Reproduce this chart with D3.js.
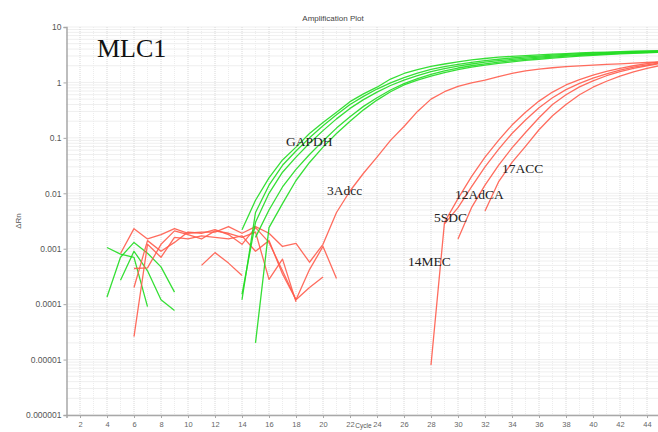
<!DOCTYPE html>
<html>
<head>
<meta charset="utf-8">
<script src="https://cdn.jsdelivr.net/npm/d3@7"></script>
<style>
  html, body { margin: 0; padding: 0; background: #fff; }
  svg { display: block; }
</style>
</head>
<body>
<svg id="chart" width="658" height="432"></svg>
<script>
// ---- data: delta Rn per cycle (first value belongs to the start cycle) ----
const cycleTicks = d3.range(2, 45, 2);
const yTickValues = [10, 1, 0.1, 0.01, 0.001, 0.0001, 0.00001, 0.000001];
const yTickLabels = ["10", "1", "0.1", "0.01", "0.001", "0.0001", "0.00001", "0.000001"];

// GAPDH wells (start at cycle 14 or 15)
const gapdh1 = [0.0022, 0.0075, 0.019, 0.04, 0.068, 0.12, 0.19, 0.29, 0.45, 0.62, 0.82, 1.15, 1.45, 1.7, 1.95, 2.15, 2.35, 2.55, 2.7, 2.85, 2.95, 3.05, 3.15, 3.25, 3.32, 3.4, 3.47, 3.53, 3.6, 3.65, 3.7, 3.75];
const gapdh2 = [0.00012, 0.0045, 0.014, 0.032, 0.058, 0.1, 0.165, 0.26, 0.4, 0.56, 0.76, 0.98, 1.22, 1.47, 1.72, 1.93, 2.12, 2.3, 2.47, 2.62, 2.76, 2.88, 2.99, 3.1, 3.2, 3.29, 3.37, 3.45, 3.52, 3.58, 3.63, 3.68];
const gapdh3 = [0.00015, 0.003, 0.01, 0.024, 0.045, 0.08, 0.135, 0.22, 0.34, 0.49, 0.67, 0.88, 1.1, 1.33, 1.56, 1.78, 1.97, 2.15, 2.32, 2.47, 2.61, 2.74, 2.86, 2.97, 3.07, 3.17, 3.26, 3.34, 3.42, 3.49, 3.55, 3.6];
const gapdh4 = [0.0016, 0.005, 0.013, 0.027, 0.05, 0.088, 0.15, 0.24, 0.37, 0.53, 0.73, 0.95, 1.17, 1.4, 1.62, 1.82, 2.0, 2.17, 2.33, 2.47, 2.61, 2.74, 2.86, 2.97, 3.07, 3.17, 3.26, 3.34, 3.42, 3.49, 3.55];
const gapdh5 = [0.00002, 0.0024, 0.0065, 0.017, 0.036, 0.068, 0.12, 0.2, 0.32, 0.48, 0.68, 0.9, 1.1, 1.3, 1.5, 1.7, 1.88, 2.05, 2.2, 2.35, 2.5, 2.62, 2.75, 2.87, 2.98, 3.08, 3.18, 3.27, 3.35, 3.42, 3.5];

// GAPDH baseline noise in the early cycles
const gapdhNoise1 = [0.00105, 0.0008, 0.0007, 0.00009];
const gapdhNoise2 = [0.000135, 0.0007, 0.0013, 0.00083, 0.00047, 0.000165];
const gapdhNoise3 = [0.00027, 0.0009, 0.0004, 0.00012, 0.000077];

// target wells: baseline noise followed by amplification
const adcc3 = [0.00082, 0.0023, 0.0015, 0.0018, 0.0023, 0.0019, 0.002, 0.002, 0.0025, 0.0019, 0.0025, 0.0019, 0.0011, 0.00125, 0.00057, 0.0012, 0.0045, 0.011, 0.023, 0.045, 0.09, 0.16, 0.3, 0.5, 0.68, 0.85, 0.98, 1.1, 1.27, 1.45, 1.62, 1.74, 1.84, 1.92, 1.99, 2.05, 2.11, 2.17, 2.23, 2.29, 2.35];
const mec14 = [0.000008, 0.003, 0.008, 0.02, 0.045, 0.09, 0.17, 0.29, 0.46, 0.67, 0.9, 1.12, 1.35, 1.58, 1.8, 2.0, 2.18, 2.35];
const sdc5 = [0.0028, 0.0055, 0.013, 0.03, 0.062, 0.12, 0.21, 0.35, 0.53, 0.74, 0.96, 1.2, 1.43, 1.66, 1.88, 2.07, 2.25];
const adca12 = [0.0015, 0.0055, 0.014, 0.032, 0.066, 0.125, 0.23, 0.4, 0.6, 0.83, 1.07, 1.32, 1.56, 1.8, 2.0, 2.2];
const acc17 = [0.0048, 0.016, 0.036, 0.07, 0.14, 0.25, 0.4, 0.6, 0.82, 1.05, 1.3, 1.55, 1.8, 2.02];

// target wells: baseline noise only
const redNoise1 = [0.000026, 0.0012, 0.0007, 0.0016, 0.0015, 0.0017, 0.0016, 0.0015, 0.0017, 0.0009, 0.0014, 0.00035, 0.00012, 0.0002, 0.00031];
const redNoise2 = [0.00044, 0.00045, 0.0012, 0.0021, 0.0018, 0.0015, 0.0021, 0.0019, 0.0016, 0.002, 0.00028, 0.00065, 0.00011];
const redNoise3 = [0.0002, 0.0014, 0.0009, 0.0013, 0.002, 0.0019, 0.0022, 0.0018, 0.0012, 0.0024, 0.0013, 0.0004, 0.00012, 0.00042, 0.0011, 0.00029];
const redNoise4 = [0.0005, 0.00085, 0.00055, 0.00033];

const GREEN = "#20dc20";
const RED = "#ff5c4c";

const wells = [
  { values: gapdhNoise1, start: 4, color: GREEN },
  { values: gapdhNoise2, start: 4, color: GREEN },
  { values: gapdhNoise3, start: 5, color: GREEN },
  { values: redNoise1, start: 6, color: RED },
  { values: redNoise2, start: 6, color: RED },
  { values: redNoise3, start: 6, color: RED },
  { values: redNoise4, start: 11, color: RED },
  { values: adcc3, start: 5, color: RED },
  { values: mec14, start: 28, color: RED },
  { values: sdc5, start: 29, color: RED },
  { values: adca12, start: 30, color: RED },
  { values: acc17, start: 32, color: RED },
  { values: gapdh1, start: 14, color: GREEN },
  { values: gapdh2, start: 14, color: GREEN },
  { values: gapdh3, start: 14, color: GREEN },
  { values: gapdh4, start: 15, color: GREEN },
  { values: gapdh5, start: 15, color: GREEN }
];

const labels = [
  { text: "GAPDH", x: 286, y: 146 },
  { text: "3Adcc", x: 327, y: 195 },
  { text: "14MEC", x: 408, y: 266 },
  { text: "5SDC", x: 434, y: 222 },
  { text: "12AdCA", x: 455, y: 199 },
  { text: "17ACC", x: 502, y: 173 }
];

// ---- layout ----
const svg = d3.select("#chart");
const plotLeft = 66.5, plotRight = 660.5, plotTop = 27, plotBottom = 415;

const x = d3.scaleLinear().domain([1, 45]).range([plotLeft, plotRight]);
const y = d3.scaleLog().domain([1e-6, 10]).range([plotBottom, plotTop]);

svg.append("defs").append("clipPath").attr("id", "plot")
  .append("rect").attr("x", plotLeft).attr("y", plotTop - 2)
  .attr("width", plotRight - plotLeft).attr("height", plotBottom - plotTop + 2);

// grid
const grid = svg.append("g");
const minorY = [];
for (let e = -6; e < 1; e++) for (let m = 1; m <= 9; m++) minorY.push(m * Math.pow(10, e));
minorY.push(10);
grid.selectAll("line.h").data(minorY).join("line")
  .attr("x1", plotLeft).attr("x2", plotRight)
  .attr("y1", d => y(d)).attr("y2", d => y(d))
  .attr("stroke", "#dedede").attr("stroke-width", 1)
  .attr("stroke-dasharray", "1,1");
grid.selectAll("line.v").data(d3.range(2, 46)).join("line")
  .attr("y1", plotTop).attr("y2", plotBottom)
  .attr("x1", d => x(d)).attr("x2", d => x(d))
  .attr("stroke", d => d % 2 === 0 ? "#d8d8d8" : "#ececec").attr("stroke-width", 1)
  .attr("stroke-dasharray", "1,1");

// curves
const line = d3.line()
  .defined(d => d.v != null && d.v > 0)
  .x(d => x(d.c))
  .y(d => y(d.v));

svg.append("g").attr("clip-path", "url(#plot)")
  .selectAll("path").data(wells).join("path")
  .attr("d", w => line(w.values.map((v, i) => ({ c: w.start + i, v }))))
  .attr("fill", "none")
  .attr("stroke", w => w.color)
  .attr("stroke-width", 1.3)
  .attr("stroke-opacity", 0.9)
  .attr("stroke-linejoin", "round");

// axes
const axisColor = "#a8a8a8";
const xAxis = d3.axisBottom(x).tickValues(cycleTicks).tickSize(3).tickPadding(4);
const gx = svg.append("g").attr("transform", `translate(0,${plotBottom})`).call(xAxis);
gx.select(".domain").attr("stroke", axisColor).attr("stroke-width", 1.5);
gx.selectAll(".tick line").attr("stroke", axisColor);
gx.selectAll(".tick text").attr("font-family", "Liberation Sans, Arial, sans-serif")
  .attr("font-size", 7.5).attr("fill", "#666");

const yAxis = d3.axisLeft(y).tickValues(yTickValues)
  .tickFormat((d, i) => yTickLabels[i]).tickSize(3).tickPadding(2);
const gy = svg.append("g").attr("transform", `translate(${plotLeft},0)`).call(yAxis);
gy.select(".domain").attr("stroke", axisColor).attr("stroke-width", 1.5);
gy.selectAll(".tick line").attr("stroke", axisColor);
gy.selectAll(".tick text").attr("font-family", "Liberation Sans, Arial, sans-serif")
  .attr("font-size", 8.5).attr("fill", "#555");

// titles
svg.append("text").attr("x", 333).attr("y", 21).attr("text-anchor", "middle")
  .attr("font-family", "Liberation Sans, Arial, sans-serif").attr("font-size", 8)
  .attr("fill", "#444").text("Amplification Plot");
svg.append("text").attr("transform", "translate(21,221) rotate(-90)")
  .attr("text-anchor", "middle")
  .attr("font-family", "Liberation Sans, Arial, sans-serif").attr("font-size", 8)
  .attr("fill", "#555").text("ΔRn");
// x-axis title sits in the gap between the 22 and 24 tick labels
svg.append("text").attr("x", x(23)).attr("y", 427.5).attr("text-anchor", "middle")
  .attr("font-family", "Liberation Sans, Arial, sans-serif").attr("font-size", 6.5)
  .attr("fill", "#555").text("Cycle");

svg.append("text").attr("x", 97).attr("y", 57)
  .attr("font-family", "Liberation Serif, Times New Roman, serif").attr("font-size", 26)
  .attr("fill", "#111").text("MLC1");

svg.append("g").selectAll("text").data(labels).join("text")
  .attr("x", d => d.x).attr("y", d => d.y)
  .attr("font-family", "Liberation Serif, Times New Roman, serif").attr("font-size", 13.5)
  .attr("fill", "#222").text(d => d.text);
</script>
</body>
</html>
